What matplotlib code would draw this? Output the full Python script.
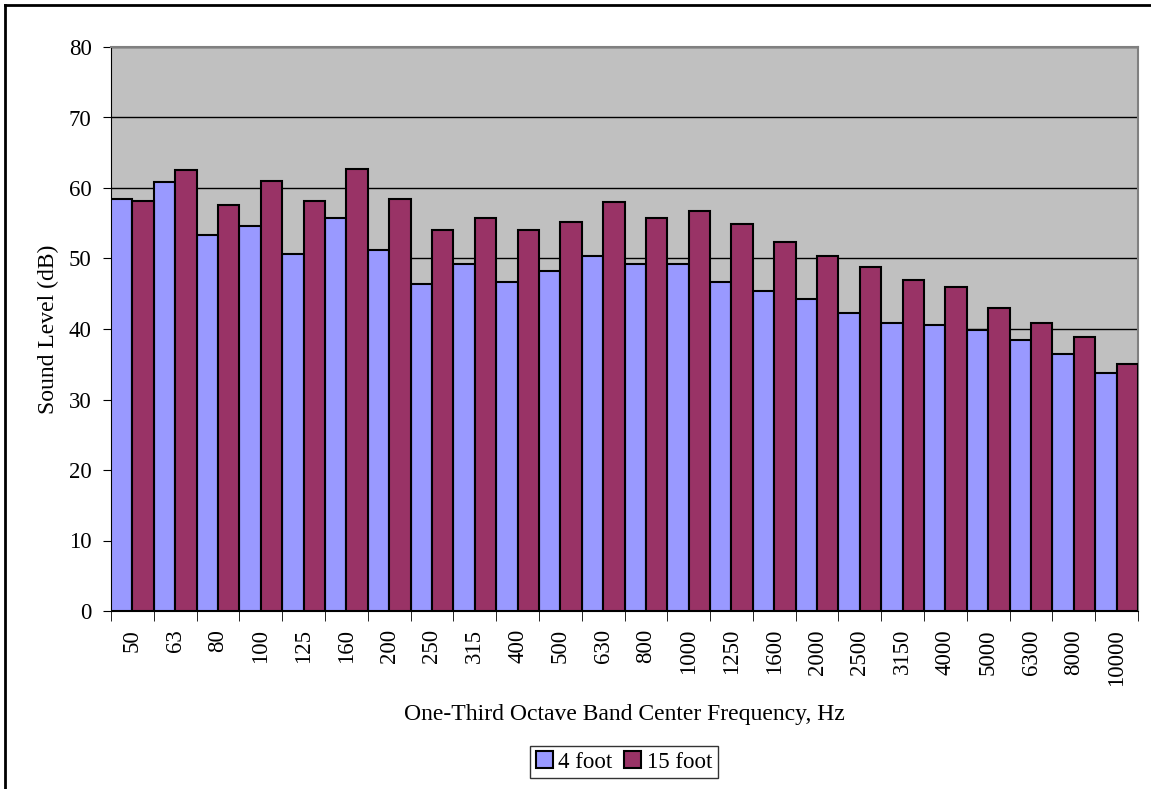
import numpy as np
import matplotlib.pyplot as plt
from matplotlib.lines import Line2D

plt.rcParams['font.family'] = ['Liberation Serif', 'DejaVu Serif']

# one-third octave band data
freqs = ['50', '63', '80', '100', '125', '160', '200', '250', '315', '400',
         '500', '630', '800', '1000', '1250', '1600', '2000', '2500', '3150',
         '4000', '5000', '6300', '8000', '10000']
level_4ft = [58.4, 60.9, 53.4, 54.6, 50.7, 55.8, 51.2, 46.4, 49.2, 46.7,
             48.2, 50.3, 49.2, 49.2, 46.6, 45.4, 44.2, 42.2, 40.9, 40.6,
             39.8, 38.5, 36.5, 33.8]
level_15ft = [58.2, 62.6, 57.6, 61.0, 58.2, 62.7, 58.5, 54.1, 55.8, 54.0,
              55.2, 58.0, 55.8, 56.7, 54.9, 52.4, 50.4, 48.8, 47.0, 45.9,
              43.0, 40.9, 38.9, 35.1]

fs = 16.5
fig = plt.figure(figsize=(11.51, 7.89), dpi=100)
ax = fig.add_axes([111/1151, 1 - 611/789, (1138 - 111)/1151, (611 - 47)/789])

x = np.arange(len(freqs))
w = 0.5
ax.bar(x - w/2, level_4ft, w, color='#9999FF', edgecolor='black', linewidth=1.5, label='4 foot', zorder=3)
ax.bar(x + w/2, level_15ft, w, color='#993366', edgecolor='black', linewidth=1.5, label='15 foot', zorder=3)

ax.set_facecolor('#C0C0C0')
ax.set_xlim(-0.5, len(freqs) - 0.5)
ax.set_ylim(0, 80)
ax.set_yticks(range(0, 81, 10))
ax.yaxis.grid(True, color='black', linewidth=1.0)
ax.set_axisbelow(True)

ax.set_xticks(x)
ax.set_xticklabels(freqs, rotation=90, fontsize=fs)
ax.set_xticks(np.arange(-0.5, len(freqs), 1), minor=True)
ax.tick_params(axis='x', which='major', length=0, pad=13)
ax.tick_params(axis='x', which='minor', length=7, direction='out')
ax.tick_params(axis='y', labelsize=fs, length=6, direction='out', pad=8)

for s in ['left', 'bottom']:
    ax.spines[s].set_color('black')
for s in ['top', 'right']:
    ax.spines[s].set_color('#808080')
    ax.spines[s].set_linewidth(1.5)

ax.set_xlabel('One-Third Octave Band Center Frequency, Hz', fontsize=17, labelpad=13)
ax.set_ylabel('Sound Level (dB)', fontsize=17, labelpad=7)

leg = fig.legend(loc='center', bbox_to_anchor=(624/1151, 1 - 762/789), ncol=2,
                 fontsize=fs, frameon=True, fancybox=False, edgecolor='black',
                 handlelength=0.75, handleheight=0.75, handletextpad=0.25,
                 columnspacing=0.5, borderpad=0.25, borderaxespad=0)
leg.get_frame().set_linewidth(1.0)

# outer chart border (left and top edges visible)
fig.add_artist(Line2D([5/1151, 5/1151], [0, 1 - 5/789], transform=fig.transFigure, color='black', linewidth=2))
fig.add_artist(Line2D([5/1151, 1], [1 - 5/789, 1 - 5/789], transform=fig.transFigure, color='black', linewidth=2))

fig.savefig('out.png', dpi=100)
